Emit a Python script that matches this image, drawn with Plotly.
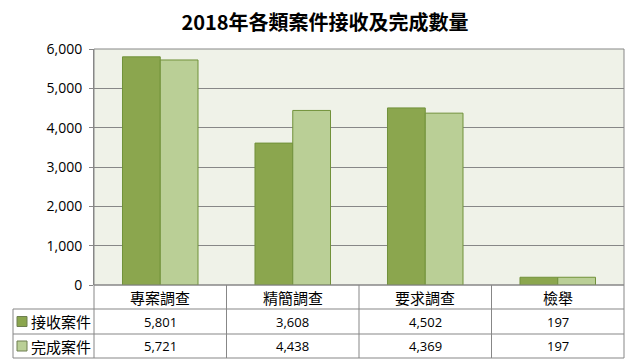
import plotly.graph_objects as go

categories = ["專案調查", "精簡調查", "要求調查", "檢舉"]
series_names = ["接收案件", "完成案件"]
received = [5801, 3608, 4502, 197]
completed = [5721, 4438, 4369, 197]
y_ticks = [0, 1000, 2000, 3000, 4000, 5000, 6000]

dark = "#8BA64E"
light = "#BACF96"
edge = "#71913A"
grid = "#878787"
cjk = "Noto Sans CJK TC, Noto Sans CJK JP, sans-serif"
num_font = "Open Sans, Noto Sans, sans-serif"

OFF = 8  # page body margin
W, H = 636 - OFF, 362 - OFF
L, R, T, B = 94 - OFF, 12, 49 - OFF, 77
pw, ph = W - L - R, H - T - B

def py(v):
    return (H - B - (v - OFF)) / ph

def pxx(v):
    return (v - OFF - L) / pw

fig = go.Figure()
colors = [dark, light]
for name, vals, c in zip(series_names, [received, completed], colors):
    fig.add_trace(go.Bar(x=categories, y=vals, name=name, marker=dict(color=c, line=dict(color=edge, width=1)),
                         hoverinfo="x+y"))

shapes = []
annotations = []
row_y = [285, 309, 334, 358]
tleft = 13
shapes.append(dict(type="line", xref="paper", yref="paper", x0=0, x1=1, y0=py(row_y[0]), y1=py(row_y[0]), line=dict(color=grid, width=1)))
for ry in row_y[1:]:
    shapes.append(dict(type="line", xref="paper", yref="paper", x0=pxx(tleft), x1=1, y0=py(ry), y1=py(ry), line=dict(color=grid, width=1)))
n = len(categories)
for i in range(n + 1):
    xp = i / n
    shapes.append(dict(type="line", xref="paper", yref="paper", x0=xp, x1=xp, y0=py(row_y[0]), y1=py(row_y[3]), line=dict(color=grid, width=1)))
shapes.append(dict(type="line", xref="paper", yref="paper", x0=pxx(tleft), x1=pxx(tleft), y0=py(row_y[1]), y1=py(row_y[3]), line=dict(color=grid, width=1)))
shapes.append(dict(type="rect", xref="paper", yref="paper", x0=0, x1=1, y0=0, y1=1, line=dict(color=grid, width=1), layer="below"))

for c in categories:
    annotations.append(dict(x=c, xref="x", y=py((row_y[0] + row_y[1]) / 2), yref="paper", text=c, showarrow=False,
                            font=dict(family=cjk, size=15, color="#000"), xanchor="center", yanchor="middle"))
for r, (name, vals, col) in enumerate(zip(series_names, [received, completed], colors)):
    yc = py((row_y[r + 1] + row_y[r + 2]) / 2)
    for c, v in zip(categories, vals):
        annotations.append(dict(x=c, xref="x", y=yc, yref="paper", text=f"{v:,}", showarrow=False,
                                font=dict(family=num_font, size=13, color="#000"), xanchor="center", yanchor="middle"))
    shapes.append(dict(type="rect", xref="paper", yref="paper", x0=pxx(17), x1=pxx(27),
                       y0=yc - 5 / ph, y1=yc + 5 / ph, fillcolor=col, line=dict(color="#6E7F50", width=1)))
    annotations.append(dict(x=pxx(29), xref="paper", y=yc, yref="paper", text=name, showarrow=False,
                            font=dict(family=cjk, size=15, color="#000"), xanchor="left", yanchor="middle"))

fig.update_layout(
    width=W, height=H,
    margin=dict(l=L, r=R, t=T, b=B),
    paper_bgcolor="white", plot_bgcolor="#EFF2E8",
    barmode="group", bargap=0.43, bargroupgap=0,
    showlegend=False,
    title=dict(text="<b>2018年各類案件接收及完成數量</b>", x=(325 - OFF) / W, xanchor="center",
               y=1 - (23 - OFF) / H, yanchor="middle",
               font=dict(family=cjk, size=20, color="#000")),
    xaxis=dict(showticklabels=False, ticks="", showgrid=False, zeroline=False, range=[-0.5, 3.5], fixedrange=True),
    yaxis=dict(range=[0, 6000], tickvals=y_ticks, ticktext=[f"{t:,}" for t in y_ticks], showgrid=True, gridcolor=grid,
               gridwidth=1, zeroline=False, ticks="outside", ticklen=4, tickcolor=grid, showline=True, linecolor=grid,
               tickfont=dict(family=num_font, size=14, color="#000"), ticklabelstandoff=4),
    shapes=shapes, annotations=annotations,
)
fig.write_html("out.html")
